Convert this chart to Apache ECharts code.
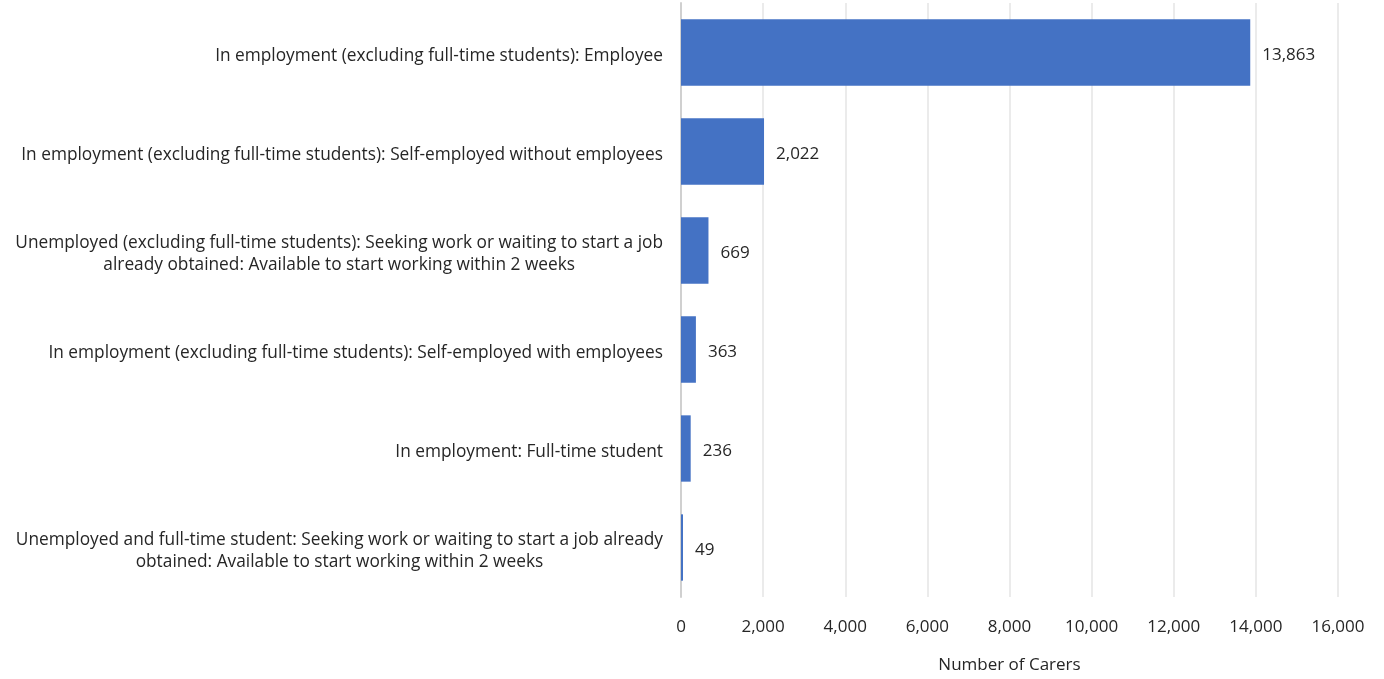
<!DOCTYPE html>
<html><head><meta charset="utf-8">
<script src="https://cdn.jsdelivr.net/npm/echarts@6/dist/echarts.min.js"></script>
<style>html,body{margin:0;padding:0;background:#fff}#c{width:1384px;height:679px}</style>
</head><body><div id="c"></div>
<script>
const categories = [
  "In employment (excluding full-time students): Employee",
  "In employment (excluding full-time students): Self-employed without employees",
  "Unemployed (excluding full-time students): Seeking work or waiting to start a job\nalready obtained: Available to start working within 2 weeks",
  "In employment (excluding full-time students): Self-employed with employees",
  "In employment: Full-time student",
  "Unemployed and full-time student: Seeking work or waiting to start a job already\nobtained: Available to start working within 2 weeks"
];
const carers = [13863, 2022, 669, 363, 236, 49];
const axisName = "Number of Carers";

const font = "'Open Sans', sans-serif";
const chart = echarts.init(document.getElementById('c'));
chart.setOption({
  animation: false,
  grid: {left: 681, right: 46, top: 3, bottom: 81, containLabel: false},
  xAxis: {
    type: 'value', min: 0, max: 16000, interval: 2000,
    name: axisName, nameLocation: 'middle', nameGap: 60,
    nameTextStyle: {fontFamily: font, fontSize: 17, color: '#262626'},
    axisLine: {show: false}, axisTick: {show: false},
    axisLabel: {fontFamily: font, fontSize: 17, color: '#262626', margin: 22,
      formatter: v => v.toLocaleString('en-US')},
    splitLine: {show: true, lineStyle: {color: '#e4e4e4', width: 1.5}}
  },
  yAxis: {
    type: 'category', data: categories, inverse: true,
    axisLine: {show: true, lineStyle: {color: '#d0d0d0', width: 2}},
    axisTick: {show: false},
    axisLabel: {
      margin: 18, align: 'right', padding: [8, 0, 0, 0],
      formatter: v => v.split('\n').map(l => '{c|' + l + '}').join('\n'),
      rich: {c: {align: 'center', fontFamily: font, fontSize: 17.3, color: '#262626', lineHeight: 22}}
    }
  },
  series: [{
    type: 'bar', data: carers, barCategoryGap: '33%',
    itemStyle: {color: '#4472C4'},
    label: {show: true, position: 'right', distance: 12, offset: [0, 3], fontFamily: font, fontSize: 17, color: '#262626',
      formatter: p => p.value.toLocaleString('en-US')}
  }]
});
</script></body></html>
